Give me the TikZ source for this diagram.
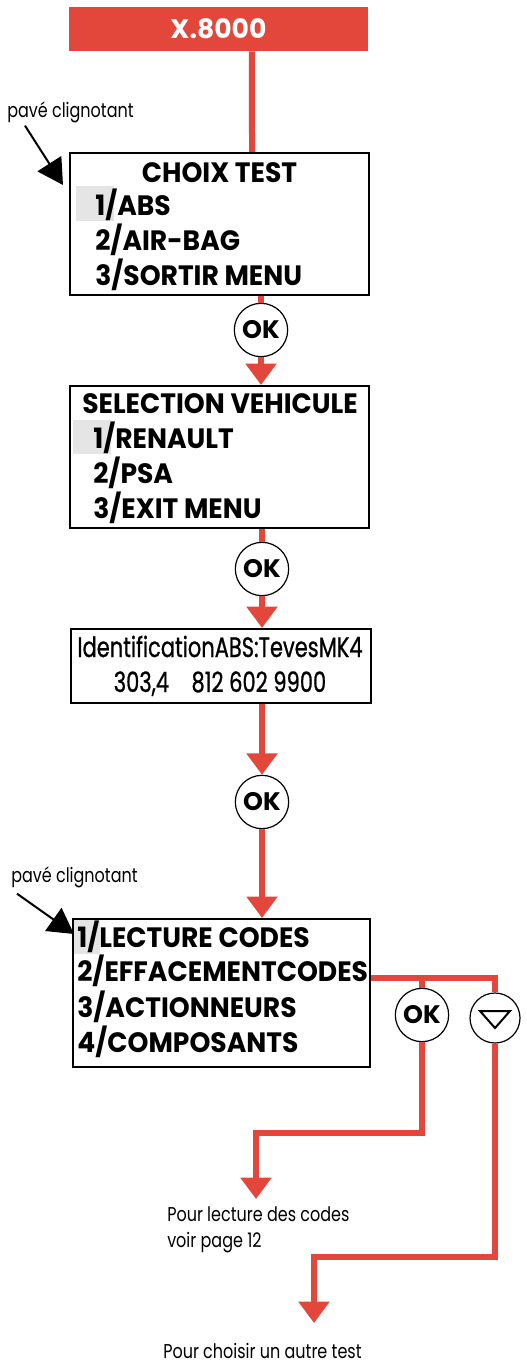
\documentclass[tikz,border=0pt]{standalone}
\usepackage{fontspec}
\setmainfont{Poppins}
\newfontfamily\menufont{Poppins}[FakeStretch=0.95]
\newfontfamily\condfont{Poppins}[FakeStretch=0.75,FakeBold=0.8]
\newfontfamily\notefont{Poppins}[FakeStretch=0.8]
\usetikzlibrary{arrows.meta}
\definecolor{xred}{HTML}{E3463B}
\definecolor{blink}{HTML}{E5E5E5}

\begin{document}
\begin{tikzpicture}[x=0.75pt,y=-0.75pt,
    screen/.style={draw,line width=1.6pt,inner sep=0pt},
    menu/.style={font=\menufont\bfseries\fontsize{21}{24}\selectfont,anchor=base west,inner sep=0pt},
    cell/.style={fill=blink,inner sep=0pt},
    okbtn/.style={circle,draw,line width=0.9pt,fill=white,minimum size=40pt,inner sep=0pt,font=\bfseries\fontsize{19}{20}\selectfont},
    redline/.style={xred,line width=4.5pt},
    redarrow/.style={redline,-{Triangle[width=22.5pt,length=16pt]}},
    blinkarrow/.style={line width=1.5pt,-{Triangle[width=21pt,length=19pt]}},
    note/.style={font=\notefont\fontsize{15}{18}\selectfont,anchor=base west,inner sep=0pt}]

    \useasboundingbox (0,0) rectangle (526,1367);

    \node[fill=xred,minimum width=224pt,minimum height=33pt,text=white,font=\bfseries\fontsize{20}{22}\selectfont] (x8000) at (218.5,29) {X.8000};

    % choix test
    \node[cell,minimum width=28.5pt,minimum height=26.25pt] (cell1) at (95,203.5) {};
    \node[screen,minimum width=224pt,minimum height=106.5pt] (choix) at (219.5,224) {};
    \node[menu,anchor=base] (choix0) at (219.5,182) {CHOIX TEST};
    \node[menu] (choix1) at (95,215) {1/ABS};
    \node[menu] (choix2) at (95,250) {2/AIR-BAG};
    \node[menu] (choix3) at (95,285) {3/SORTIR MENU};
    \node[note] (pave1) at (7,117) {pavé clignotant};
    \coordinate (blink1) at (63,185);

    \node[okbtn] (ok1) at (261,330) {OK};

    % selection vehicule
    \node[cell,minimum width=28.5pt,minimum height=25.5pt] (cell2) at (92,437) {};
    \node[screen,minimum width=224pt,minimum height=106.5pt] (selection) at (219.5,457) {};
    \node[menu,anchor=base] (sel0) at (220,413) {SELECTION VEHICULE};
    \node[menu] (sel1) at (93,448) {1/RENAULT};
    \node[menu] (sel2) at (93,483) {2/PSA};
    \node[menu] (sel3) at (93,518) {3/EXIT MENU};

    \node[okbtn] (ok2) at (262,569) {OK};

    % identification
    \node[screen,minimum width=225pt,minimum height=55.5pt] (ident) at (221,666) {};
    \node[font=\condfont\fontsize{21}{24}\selectfont,anchor=base,inner sep=0pt] (ident1) at (220,657) {IdentificationABS:TevesMK4};
    \node[font=\condfont\fontsize{21}{24}\selectfont,anchor=base,inner sep=0pt] (ident2) at (220,692) {303,4\ \ \ \ 812 602 9900};

    \node[okbtn] (ok3) at (262,802) {OK};

    % lecture codes
    \node[cell,minimum width=20.25pt,minimum height=25.5pt] (cell3) at (86.5,937) {};
    \node[screen,minimum width=222.75pt,minimum height=111pt] (lecture) at (221.5,993) {};
    \node[menu] (lec1) at (77,947) {1/LECTURE CODES};
    \node[menu] (lec2) at (77,981) {2/EFFACEMENTCODES};
    \node[menu] (lec3) at (77,1017) {3/ACTIONNEURS};
    \node[menu] (lec4) at (77,1052) {4/COMPOSANTS};
    \node[note] (pave2) at (11,882) {pavé clignotant};
    \coordinate (blink2) at (74,934);

    \node[okbtn] (okcodes) at (422,1015) {OK};
    \node[okbtn,minimum size=37.5pt] (suivant) at (495,1018) {};
    \draw[line width=1.5pt] ([shift={(-15,-7)}]suivant.center) -- ++(30,0) -- ++(-15,17) -- cycle;
    \coordinate (fork) at (422,978);

    \node[note] (codes1) at (167,1221) {Pour lecture des codes};
    \node[note] (codes2) at (167,1247) {voir page 12};
    \node[note] (autre) at (163,1358) {Pour choisir un autre test};
    \coordinate (tip1) at (256,1199);
    \coordinate (tip2) at (314,1323);

    \draw[redline] ([xshift=25pt]x8000.south) -- ([xshift=24.4pt]choix.north);
    \draw[redline] (choix.south -| ok1) -- (ok1.north);
    \draw[redarrow] (ok1.south) -- (selection.north -| ok1);
    \draw[redline] (selection.south -| ok2) -- (ok2.north);
    \draw[redarrow] (ok2.south) -- (ident.north -| ok2);
    \draw[redarrow] (ident.south -| ok3) -- (ok3.north);
    \draw[redarrow] (ok3.south) -- (lecture.north -| ok3);
    \draw[redline] (lecture.east |- fork) -- (fork) -- (okcodes.north);
    \draw[redline] (fork) -| (suivant.north);
    \draw[redarrow] (okcodes.south) -- (okcodes.south |- 0,1133) -| (tip1);
    \draw[redarrow] (suivant.south) -- (suivant.south |- 0,1257) -| (tip2);

    \draw[blinkarrow] ([xshift=13.5pt,yshift=-2.25pt]pave1.south west) -- (blink1);
    \draw[blinkarrow] ([xshift=4.5pt,yshift=-4.5pt]pave2.south west) -- (blink2);
\end{tikzpicture}
\end{document}
